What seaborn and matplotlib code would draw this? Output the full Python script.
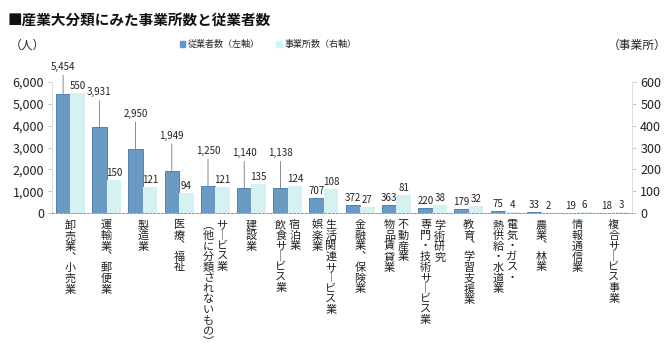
import numpy as np
import pandas as pd
import seaborn as sns
import matplotlib.pyplot as plt
from matplotlib.patches import Patch

sns.set_theme(style="white")
plt.rcParams['font.family'] = ['Noto Sans CJK JP', 'DejaVu Sans']

# Data

categories = ["卸売業、小売業", "運輸業、郵便業", "製造業", "医療、福祉",
              "サービス業（他に分類されないもの）", "建設業", "宿泊業、飲食サービス業",
              "生活関連サービス業、娯楽業", "金融業、保険業", "不動産業、物品賃貸業",
              "学術研究、専門・技術サービス業", "教育、学習支援業",
              "電気・ガス・熱供給・水道業", "農業、林業", "情報通信業", "複合サービス事業"]
# vertical label columns, read right to left
label_columns = [
    ["卸売業、小売業"], ["運輸業、郵便業"], ["製造業"], ["医療、福祉"],
    ["サービス業", "（他に分類されないもの）"], ["建設業"],
    ["宿泊業", "飲食サービス業"], ["生活関連サービス業", "娯楽業"],
    ["金融業、保険業"], ["不動産業", "物品賃貸業"],
    ["学術研究", "専門・技術サービス業"], ["教育、学習支援業"],
    ["電気・ガス・", "熱供給・水道業"], ["農業、林業"], ["情報通信業"],
    ["複合サービス事業"],
]
employees = [5454, 3931, 2950, 1949, 1250, 1140, 1138, 707, 372, 363, 220, 179, 75, 33, 19, 18]
offices = [550, 150, 121, 94, 121, 135, 124, 108, 27, 81, 38, 32, 4, 2, 6, 3]

s_emp = "従業者数（左軸）"
s_off = "事業所数（右軸）"
blue = "#5b9ad0"
cyan = "#d2f5f5"
palette = {s_emp: blue, s_off: cyan}

df = pd.DataFrame({
    "産業": categories * 2,
    "系列": [s_emp] * len(categories) + [s_off] * len(categories),
    "値": employees + offices,
})

# Figure

fig, ax = plt.subplots(figsize=(6.7, 3.51), dpi=100)
fig.subplots_adjust(left=0.078, right=0.943, bottom=0.393, top=0.766)
ax2 = ax.twinx()

sns.barplot(data=df[df["系列"] == s_emp], x="産業", y="値", hue="系列",
            hue_order=[s_emp, s_off], palette=palette, width=0.8, dodge=True,
            legend=False, edgecolor="#3f78ae", linewidth=0.6, ax=ax)
sns.barplot(data=df[df["系列"] == s_off], x="産業", y="値", hue="系列",
            hue_order=[s_emp, s_off], palette=palette, width=0.8, dodge=True,
            legend=False, linewidth=0, ax=ax2)

ax.set_ylim(0, 6000)
ax2.set_ylim(0, 600)
ax.set_yticks(range(0, 6001, 1000))
ax.set_yticklabels([f"{v:,}" for v in range(0, 6001, 1000)])
ax2.set_yticks(range(0, 601, 100))
ax.set_xlim(-0.5, len(categories) - 0.5)
ax.set_xticks(range(len(categories)))
ax.set_xticklabels([])
ax.set_xlabel("")
ax.set_ylabel("")
ax2.set_ylabel("")

for a in (ax, ax2):
    a.tick_params(axis="y", length=3, width=0.6, color="#bbbbbb", labelsize=9,
                  labelcolor="#222222", pad=3)
    a.tick_params(axis="x", length=0)
    a.spines["top"].set_visible(False)
    for side in ("left", "right"):
        a.spines[side].set_color("#dddddd")
        a.spines[side].set_linewidth(0.7)
    a.spines["bottom"].set_color("#999999")
    a.spines["bottom"].set_linestyle((0, (2, 2)))
    a.spines["bottom"].set_linewidth(0.7)

# value labels

emp_bars = [c for c in ax.containers if len(c) > 0][0]
off_bars = [c for c in ax2.containers if len(c) > 0][0]

for bar, v in zip(emp_bars, employees):
    x = bar.get_x() + bar.get_width() / 2
    y = bar.get_height()
    if v >= 1000:
        off = 22 if v > 5000 else 30
        ax.annotate(f"{v:,}", xy=(x, y), xytext=(0, off), textcoords="offset pixels",
                    ha="center", va="bottom", fontsize=7, color="#222222",
                    annotation_clip=False,
                    arrowprops=dict(arrowstyle="-", color="#777777", lw=0.6,
                                    shrinkA=0, shrinkB=0))
    else:
        ax.annotate(f"{v:,}", xy=(x, y), xytext=(0, 2), textcoords="offset pixels",
                    ha="center", va="bottom", fontsize=7, color="#222222",
                    annotation_clip=False)

for bar, v in zip(off_bars, offices):
    x = bar.get_x() + bar.get_width() / 2
    y = bar.get_height()
    ax2.annotate(f"{v:,}", xy=(x, y), xytext=(0, 2), textcoords="offset pixels",
                 ha="center", va="bottom", fontsize=7, color="#222222",
                 annotation_clip=False)

# vertical category labels

vert_map = {"ー": "︱", "（": "︵", "）": "︶", "、": "︑"}


def vertical(s):
    return "\n".join(vert_map.get(c, c) for c in s)


for i, cols in enumerate(label_columns):
    n = len(cols)
    for j, col in enumerate(cols):
        dx = ((n - 1) / 2 - j) * 14
        ax.annotate(vertical(col), xy=(i, 0), xycoords=("data", "axes fraction"),
                    xytext=(dx, -7), textcoords="offset pixels", ha="center",
                    va="top", fontsize=8, linespacing=1.07, color="#222222",
                    annotation_clip=False)

# titles and legend

fig.text(0.012, 0.945, "■産業大分類にみた事業所数と従業者数", fontsize=10.5,
         fontweight="bold", va="center", color="#111111")
fig.text(0.015, 0.872, "（人）", fontsize=8.5, va="center", color="#222222")
fig.text(0.995, 0.872, "（事業所）", fontsize=8.5, va="center", ha="right",
         color="#222222")
handles = [Patch(color=blue), Patch(color=cyan)]
fig.legend(handles, [s_emp, s_off], loc="center", bbox_to_anchor=(0.40, 0.872),
           ncol=2, frameon=False, fontsize=6.5, handlelength=0.6,
           handleheight=0.6, columnspacing=1.8, handletextpad=0.3)

fig.savefig("out.png", dpi=100)
